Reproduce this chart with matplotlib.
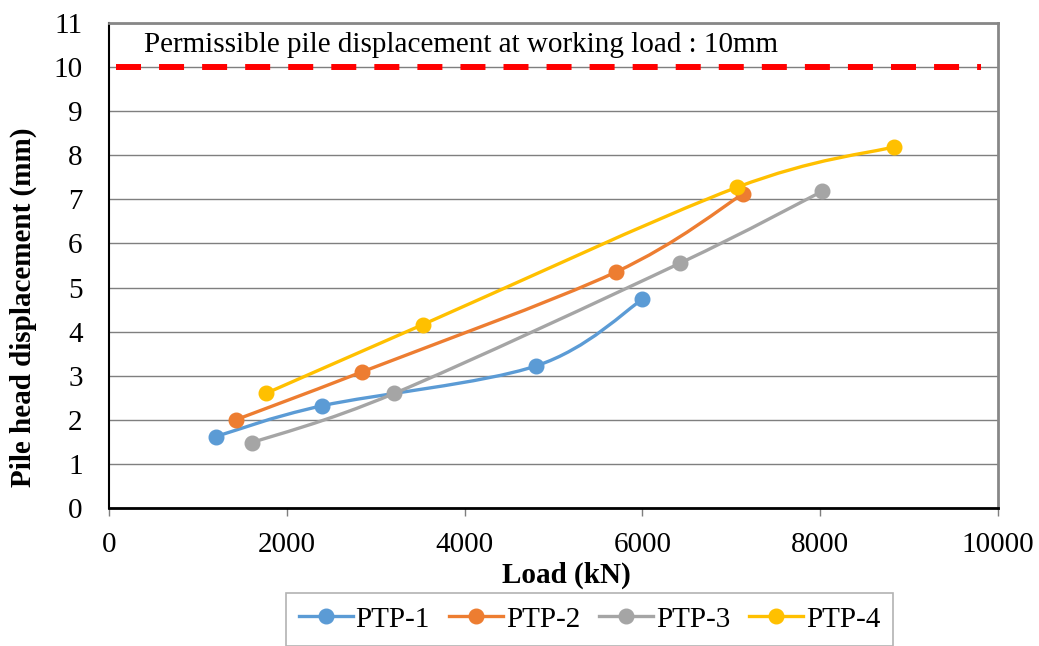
import matplotlib
matplotlib.use("Agg")
import matplotlib.pyplot as plt
from matplotlib.path import Path
from matplotlib.patches import PathPatch
import numpy as np

plt.rcParams['font.family'] = ['Liberation Serif', 'DejaVu Serif']

# load (kN) and pile head displacement (mm) for each test pile
load_1 = [1200, 2400, 4800, 6000]
disp_1 = [1.62, 2.32, 3.22, 4.73]
load_2 = [1425, 2850, 5700, 7130]
disp_2 = [2.00, 3.09, 5.35, 7.12]
load_3 = [1605, 3210, 6420, 8020]
disp_3 = [1.48, 2.60, 5.55, 7.18]
load_4 = [1765, 3530, 7060, 8830]
disp_4 = [2.60, 4.16, 7.27, 8.19]

names = ['PTP-1', 'PTP-2', 'PTP-3', 'PTP-4']
colors = ['#5B9BD5', '#ED7D31', '#A5A5A5', '#FFC000']

limit = 10
limit_text = 'Permissible pile displacement at working load : 10mm'


def smooth_path(xs, ys):
    # excel style smoothed line: cubic bezier through each pair of points
    pts = np.column_stack([xs, ys]).astype(float)
    n = len(pts)
    verts = [pts[0]]
    codes = [Path.MOVETO]
    for i in range(n - 1):
        p0 = pts[i - 1] if i > 0 else pts[i]
        p1 = pts[i]
        p2 = pts[i + 1]
        p3 = pts[i + 2] if i + 2 < n else pts[i + 1]
        c1 = p1 + (p2 - p0) / 6.0
        c2 = p2 - (p3 - p1) / 6.0
        verts += [c1, c2, p2]
        codes += [Path.CURVE4] * 3
    return Path(verts, codes)


fs = 21

fig = plt.figure(figsize=(10.39, 6.46), dpi=100)
ax = fig.add_axes([0.1049, 0.2136, 0.8556, 0.7508])

ax.set_xlim(0, 10000)
ax.set_ylim(0, 11)
ax.set_xticks(np.arange(0, 10001, 2000))
ax.set_yticks(np.arange(0, 12, 1))
ax.yaxis.grid(True, color='#7f7f7f', linewidth=1.0)
ax.set_axisbelow(True)

series = [(load_1, disp_1), (load_2, disp_2), (load_3, disp_3), (load_4, disp_4)]
for (xs, ys), name, c in zip(series, names, colors):
    patch = PathPatch(smooth_path(xs, ys), facecolor='none', edgecolor=c,
                      linewidth=2.4, capstyle='round', joinstyle='round', zorder=3)
    ax.add_patch(patch)
    ax.plot(xs, ys, linestyle='none', marker='o', markersize=10.5, color=c, zorder=4)

# permissible displacement line
lw = 4.3
lim_line, = ax.plot([80, 9810], [limit, limit], color='#FF0000', linewidth=lw,
                    dash_capstyle='butt', zorder=2)
lim_line.set_linestyle((0, (18 / lw, 13 / lw)))
ax.text(390, 10.5, limit_text, fontsize=fs, ha='left', va='center')

for side in ['top', 'right']:
    ax.spines[side].set_color('#878787')
    ax.spines[side].set_linewidth(2)
ax.spines['left'].set_color('black')
ax.spines['left'].set_linewidth(1.5)
ax.spines['bottom'].set_color('black')
ax.spines['bottom'].set_linewidth(2)

ax.tick_params(axis='y', length=0, pad=19, labelsize=fs)
ax.tick_params(axis='x', length=6, width=1, color='#7f7f7f', direction='out',
               pad=11, labelsize=fs)

ax.set_ylabel('Pile head displacement (mm)', fontsize=fs, fontweight='bold',
              va='center')
ax.yaxis.set_label_coords(-0.0967, 0.414)
fig.text(566 / 1039, 1 - 575 / 646, 'Load (kN)', fontsize=fs, fontweight='bold',
         ha='center', va='center')

handles = [plt.Line2D([], [], color=c, linewidth=2.4, marker='o', markersize=10.5)
           for c in colors]
leg = fig.legend(handles, names, loc='upper center', bbox_to_anchor=(0.5674, 1 - 593 / 646),
                 ncol=4, fontsize=fs, frameon=True, fancybox=False, handlelength=1.85,
                 handletextpad=0.1, columnspacing=0.65, borderpad=0.45,
                 borderaxespad=0)
leg.get_frame().set_edgecolor('#a0a0a0')
leg.get_frame().set_linewidth(1.2)

fig.savefig('out.png', dpi=100)
